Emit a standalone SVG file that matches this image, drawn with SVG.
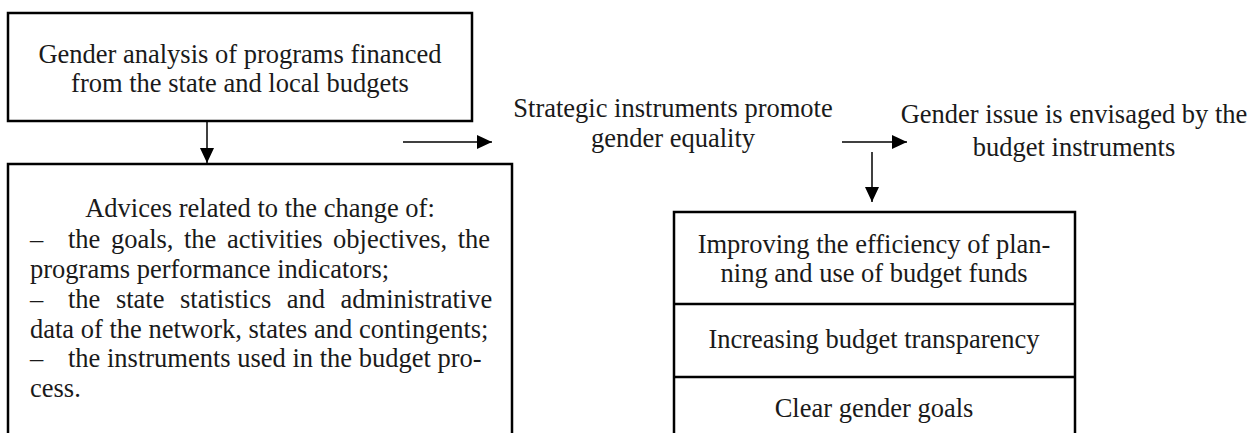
<svg xmlns="http://www.w3.org/2000/svg" width="1256" height="433" viewBox="0 0 1256 433">
<defs>
<marker id="ah" viewBox="0 0 15 14" refX="15" refY="7" markerWidth="15" markerHeight="14" markerUnits="userSpaceOnUse" orient="auto">
<path d="M0,0 L15,7 L0,14 Z" fill="#000"/>
</marker>
<style>
.box{fill:#fff;stroke:#000;stroke-width:2.5}
.t{font-family:"Liberation Serif","Times New Roman",serif;font-size:26.5px;fill:#1a1a1a}
.c{text-anchor:middle}
.ln{stroke:#000;stroke-width:1.5;fill:none}
</style>
</defs>
<rect width="1256" height="433" fill="#fff"/>
<g id="connectors">
<line class="ln" x1="207" y1="122" x2="207" y2="163" marker-end="url(#ah)"/>
<line class="ln" x1="403" y1="142" x2="492" y2="142" marker-end="url(#ah)"/>
<line class="ln" x1="842" y1="142" x2="907" y2="142" marker-end="url(#ah)"/>
<line class="ln" x1="872" y1="152" x2="872" y2="202" marker-end="url(#ah)"/>
</g>
<g id="node-analysis">
<rect class="box" x="8" y="13" width="464" height="108"/>
<text class="t c" x="240" y="63">Gender analysis of programs financed</text>
<text class="t c" x="240" y="92">from the state and local budgets</text>
</g>
<g id="node-advices">
<rect class="box" x="8" y="164" width="504" height="280"/>
<text class="t c" x="260" y="217">Advices related to the change of:</text>
<text class="t" x="30" y="248">–</text>
<text class="t" x="68" y="248" word-spacing="3.9">the goals, the activities objectives, the</text>
<text class="t" x="30" y="278">programs performance indicators;</text>
<text class="t" x="30" y="308">–</text>
<text class="t" x="68" y="308" word-spacing="8.9">the state statistics and administrative</text>
<text class="t" x="30" y="338">data of the network, states and contingents;</text>
<text class="t" x="30" y="367">–</text>
<text class="t" x="68" y="367">the instruments used in the budget pro-</text>
<text class="t" x="30" y="397">cess.</text>
</g>
<g id="node-strategic">
<text class="t c" x="673" y="117">Strategic instruments promote</text>
<text class="t c" x="673" y="147">gender equality</text>
</g>
<g id="node-issue">
<text class="t c" x="1074" y="123">Gender issue is envisaged by the</text>
<text class="t c" x="1074" y="156">budget instruments</text>
</g>
<g id="node-results">
<rect class="box" x="674" y="212" width="401" height="240"/>
<line class="box" x1="674" y1="304" x2="1075" y2="304"/>
<line class="box" x1="674" y1="377" x2="1075" y2="377"/>
<text class="t c" x="874" y="253">Improving the efficiency of plan-</text>
<text class="t c" x="874" y="282">ning and use of budget funds</text>
<text class="t c" x="874" y="348">Increasing budget transparency</text>
<text class="t c" x="874" y="417">Clear gender goals</text>
</g>
</svg>
